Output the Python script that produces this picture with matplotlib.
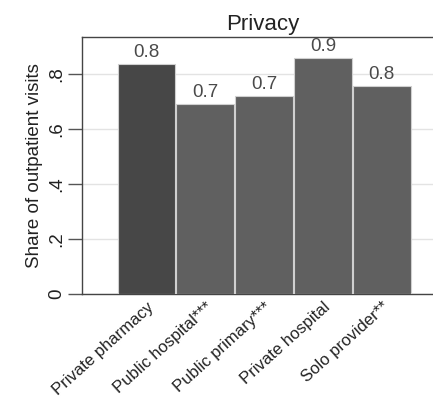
import matplotlib
matplotlib.use("Agg")
import matplotlib.pyplot as plt
import numpy as np

categories = ["Private pharmacy", "Public hospital***", "Public primary***",
              "Private hospital", "Solo provider**"]
values = [0.836, 0.691, 0.720, 0.858, 0.756]
bar_colors = ["#474747", "#606060", "#606060", "#606060", "#606060"]
yticks = [0, 0.2, 0.4, 0.6, 0.8]
ytick_labels = ["0", ".2", ".4", ".6", ".8"]

plt.rcParams['font.family'] = ['Liberation Sans', 'DejaVu Sans']

fig = plt.figure(figsize=(4.33, 4.03), dpi=100)
ax = fig.add_axes([82/433, 1 - 294/403, (444 - 82)/433, (294 - 37)/403])

x = np.arange(len(categories))
bars = ax.bar(x, values, width=0.985, color=bar_colors, edgecolor="#d0d0d0",
              linewidth=0.8, zorder=3)

for xi, v in zip(x, values):
    ax.text(xi, v + 0.012, f"{v:.1f}", ha="center", va="bottom",
            fontsize=13.5, color="#4a4a4a", zorder=4)

ax.set_xlim(-1.098, 5.06)
ax.set_ylim(0, 0.934)
ax.set_yticks(yticks)
ax.set_yticklabels(ytick_labels, rotation=90, va="center", fontsize=13.5,
                   color="#222222")
ax.tick_params(axis="y", length=10, width=1, color="#555555", pad=2)
ax.set_xticks(x)
ax.set_xticklabels(categories, rotation=42, ha="right", rotation_mode="anchor",
                   fontsize=12, color="#222222")
ax.tick_params(axis="x", length=0, pad=4)

ax.yaxis.grid(True, color="#e3e3e3", linewidth=1.0, zorder=0)
ax.set_axisbelow(True)

for s in ["left", "bottom", "top"]:
    ax.spines[s].set_color("#444444")
    ax.spines[s].set_linewidth(1.0)
ax.spines["right"].set_visible(False)

ax.set_ylabel("Share of outpatient visits", fontsize=13.5, color="#222222",
              labelpad=4)
ax.set_title("Privacy", fontsize=16, color="#222222", pad=5)

fig.savefig("out.png", dpi=100)
